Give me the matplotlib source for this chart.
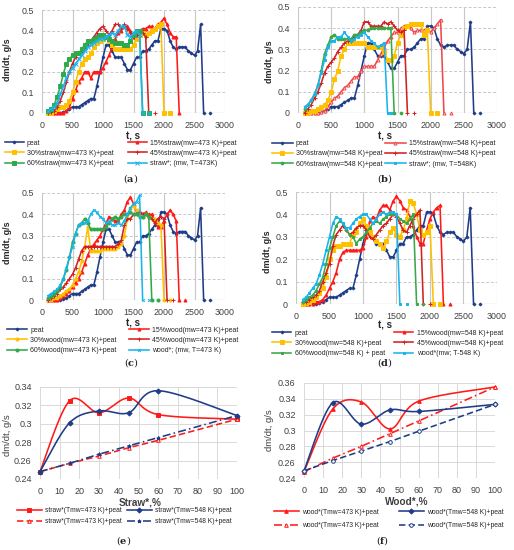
import numpy as np
import matplotlib
matplotlib.use('Agg')
from matplotlib import pyplot as plt

plt.rcParams['font.family'] = ['Liberation Sans', 'DejaVu Sans']
plt.rcParams['mathtext.fontset'] = 'dejavuserif'

# dm/dt, g/s sampled every 50 s starting at t = 100 s (nan = gap before the lone zero marker)
nan = np.nan
peat = [0, 0, 0, 0, 0, 0.005, 0.01, 0.02, 0.03, 0.03, 0.03, 0.04, 0.05, 0.06, 0.07, 0.07, 0.13, 0.20, 0.27,
        0.33, 0.33, 0.30, 0.27, 0.27, 0.27, 0.24, 0.21, 0.21, 0.24, 0.27, 0.27, 0.30, 0.30, 0.31, 0.33, 0.35,
        0.35, 0.41, 0.41, 0.40, 0.35, 0.32, 0.31, 0.32, 0.32, 0.32, 0.30, 0.29, 0.28, 0.30, 0.43, 0, nan, 0]

# (a) straw, mw at 473 K
straw15_a = [0, 0, 0, 0, 0, 0, 0.01, 0.03, 0.07, 0.11, 0.15, 0.17, 0.20, 0.20, 0.17, 0.20, 0.20, 0.20, 0.22,
             0.25, 0.28, 0.32, 0.36, 0.39, 0.40, 0.42, 0.42, 0.40, 0.37, 0.37, 0.40, 0.41, 0.41, 0.42, 0.42,
             0.41, 0.43, 0.44, 0.46, 0.43, 0.39, 0.37, 0.37, 0]
straw30_a = [0, 0, 0.01, 0.02, 0.03, 0.03, 0.04, 0.06, 0.10, 0.15, 0.20, 0.24, 0.26, 0.27, 0.29, 0.32, 0.34,
             0.35, 0.36, 0.37, 0.35, 0.33, 0.31, 0.31, 0.31, 0.31, 0.31, 0.31, 0.33, 0.36, 0.38, 0.39, 0.38,
             0.39, 0.40, 0.41, 0.42, 0.43, 0, nan, 0]
straw45_a = [0, 0.005, 0.01, 0.03, 0.06, 0.10, 0.15, 0.20, 0.24, 0.27, 0.29, 0.30, 0.31, 0.33, 0.35, 0.37,
             0.39, 0.41, 0.42, 0.40, 0.38, 0.40, 0.43, 0.43, 0.41, 0.43, 0.41, 0.39, 0.37, 0.38, 0.40, 0.39,
             0.37, 0, nan, 0]
straw60_a = [0.01, 0.02, 0.04, 0.08, 0.13, 0.19, 0.24, 0.26, 0.28, 0.29, 0.29, 0.31, 0.33, 0.35, 0.35, 0.36,
             0.37, 0.38, 0.38, 0.37, 0.36, 0.35, 0.34, 0.34, 0.34, 0.33, 0.33, 0.35, 0.38, 0.40, 0.40, 0, nan, 0]
straw_a = [0.01, 0.02, 0.03, 0.05, 0.09, 0.13, 0.17, 0.20, 0.22, 0.24, 0.26, 0.28, 0.30, 0.32, 0.33, 0.34,
           0.35, 0.36, 0.36, 0.37, 0.38, 0.39, 0.38, 0.40, 0.42, 0.42, 0.38, 0.37, 0.39, 0.40, 0.38, 0, nan, 0]

# (b) straw, mw at 548 K
straw15_b = [0, 0, 0, 0, 0, 0.005, 0.01, 0.03, 0.05, 0.07, 0.08, 0.10, 0.12, 0.13, 0.15, 0.17, 0.17, 0.20,
             0.22, 0.22, 0.22, 0.22, 0.25, 0.28, 0.31, 0.34, 0.36, 0.38, 0.38, 0.40, 0.41, 0.41, 0.40, 0.38,
             0.39, 0.39, 0.39, 0.40, 0.38, 0.40, 0.42, 0.44, 0, nan, 0]
straw30_b = [0, 0, 0.01, 0.01, 0.02, 0.03, 0.04, 0.06, 0.10, 0.16, 0.20, 0.27, 0.30, 0.33, 0.33, 0.33, 0.33,
             0.33, 0.33, 0.31, 0.31, 0.31, 0.31, 0.31, 0.29, 0.25, 0.25, 0.27, 0.33, 0.37, 0.40, 0.41, 0.42,
             0.42, 0.42, 0.42, 0.37, 0.39, 0, nan, 0]
straw45_b = [0, 0.02, 0.04, 0.07, 0.10, 0.14, 0.19, 0.22, 0.24, 0.26, 0.29, 0.31, 0.33, 0.34, 0.34, 0.36,
             0.37, 0.39, 0.43, 0.43, 0.41, 0.41, 0.41, 0.41, 0.43, 0.42, 0.43, 0.41, 0.39, 0.38, 0.39, 0, nan, 0]
straw60_b = [0.02, 0.04, 0.06, 0.09, 0.13, 0.20, 0.28, 0.32, 0.36, 0.37, 0.35, 0.35, 0.35, 0.35, 0.35, 0.37,
             0.37, 0.38, 0.39, 0.39, 0.40, 0.40, 0.40, 0.40, 0.40, 0.40, 0.40, 0, nan, 0]
straw_b = [0.03, 0.04, 0.06, 0.09, 0.13, 0.19, 0.25, 0.31, 0.34, 0.34, 0.36, 0.36, 0.38, 0.36, 0.34, 0.35,
           0.36, 0.37, 0.38, 0.36, 0.34, 0.33, 0.31, 0.32, 0.33, 0, 0]

# (c) wood, mw at 473 K
wood15_c = [0, 0, 0, 0, 0.01, 0.02, 0.03, 0.04, 0.06, 0.08, 0.10, 0.13, 0.17, 0.21, 0.24, 0.26, 0.28, 0.30,
            0.33, 0.36, 0.39, 0.38, 0.37, 0.37, 0.40, 0.42, 0.46, 0.48, 0.45, 0.41, 0.41, 0.40, 0.41, 0.40,
            0.40, 0.37, 0.34, 0.34, 0.37, 0.40, 0.42, 0.40, 0.37, 0, nan, 0]
wood30_c = [0, 0, 0.01, 0.01, 0.02, 0.03, 0.04, 0.05, 0.07, 0.10, 0.13, 0.18, 0.25, 0.34, 0.23, 0.23, 0.23,
            0.23, 0.24, 0.24, 0.24, 0.24, 0.24, 0.25, 0.26, 0.30, 0.38, 0.43, 0.44, 0.42, 0.40, 0.39, 0.40,
            0.39, 0.38, 0.38, 0.36, 0.35, 0, nan, 0]
wood45_c = [0, 0.01, 0.02, 0.03, 0.05, 0.06, 0.08, 0.10, 0.12, 0.15, 0.19, 0.23, 0.25, 0.25, 0.25, 0.25, 0.25,
            0.25, 0.25, 0.25, 0.25, 0.25, 0.25, 0.26, 0.28, 0.35, 0.38, 0.38, 0.40, 0.40, 0.41, 0.40, 0.40,
            0.39, 0.38, 0.36, 0.38, 0.39, 0.38, 0, nan, 0]
wood60_c = [0.01, 0.02, 0.03, 0.04, 0.06, 0.10, 0.14, 0.20, 0.27, 0.31, 0.35, 0.36, 0.38, 0.36, 0.33, 0.33,
            0.33, 0.33, 0.33, 0.34, 0.36, 0.38, 0.39, 0.38, 0.39, 0.40, 0.40, 0.41, 0.40, 0.40, 0.39, 0.39,
            0.40, 0.39, 0, nan, 0]
wood_c = [0.02, 0.03, 0.04, 0.05, 0.07, 0.10, 0.15, 0.20, 0.25, 0.31, 0.35, 0.36, 0.36, 0.37, 0.40, 0.42,
          0.41, 0.39, 0.38, 0.36, 0.37, 0.35, 0.35, 0.36, 0.35, 0.37, 0.40, 0.43, 0.45, 0.46, 0.49, 0, nan, 0]

# (d) wood, mw at 548 K
wood15_d = [0, 0, 0, 0, 0.01, 0.01, 0.02, 0.04, 0.07, 0.10, 0.14, 0.20, 0.23, 0.24, 0.24, 0.24, 0.24, 0.24,
            0.25, 0.30, 0.37, 0.39, 0.38, 0.42, 0.44, 0.44, 0.42, 0.46, 0.48, 0.46, 0.43, 0.42, 0.39, 0.35,
            0.30, 0.27, 0.27, 0.33, 0.38, 0.41, 0.43, 0.44, 0, nan, 0]
wood30_d = [0, 0.005, 0.01, 0.02, 0.03, 0.05, 0.07, 0.12, 0.20, 0.24, 0.26, 0.26, 0.27, 0.27, 0.27, 0.31,
            0.32, 0.36, 0.38, 0.35, 0.32, 0.30, 0.28, 0.27, 0.25, 0.28, 0.32, 0.34, 0.31, 0.30, 0.33, 0.38,
            0.46, 0.45, 0.40, 0.33, 0.31, 0.32, 0.35, 0, nan, 0]
wood45_d = [0.01, 0.01, 0.02, 0.03, 0.04, 0.06, 0.10, 0.14, 0.18, 0.26, 0.31, 0.33, 0.35, 0.33, 0.31, 0.32,
            0.34, 0.35, 0.35, 0.33, 0.30, 0.29, 0.31, 0.33, 0.35, 0.36, 0.38, 0.40, 0.39, 0.36, 0.33, 0.32,
            0.35, 0.38, 0.40, 0.42, 0, nan, 0]
wood60_d = [0.01, 0.02, 0.03, 0.04, 0.06, 0.09, 0.12, 0.18, 0.25, 0.30, 0.35, 0.37, 0.36, 0.33, 0.31, 0.30,
            0.27, 0.29, 0.30, 0.32, 0.34, 0.36, 0.37, 0.36, 0.38, 0.39, 0.40, 0.40, 0.40, 0.38, 0.37, 0.36,
            0.38, 0.40, 0, nan, 0]
wood_d = [0.02, 0.03, 0.05, 0.07, 0.09, 0.13, 0.18, 0.24, 0.30, 0.36, 0.39, 0.38, 0.36, 0.34, 0.34, 0.36,
          0.38, 0.39, 0.40, 0.40, 0.38, 0.36, 0.38, 0.40, 0.41, 0.40, 0.41, 0.41, 0.40, 0, nan, 0]

# (e), (f) mean rate vs share of additive
share = [0, 15, 30, 45, 60, 100]
straw473_exp = [0.248, 0.325, 0.312, 0.328, 0.310, 0.305]
straw548_exp = [0.248, 0.301, 0.314, 0.312, 0.336, 0.309]
straw473_add = [0.248, 0.257, 0.265, 0.274, 0.282, 0.305]
straw548_add = [0.248, 0.257, 0.267, 0.276, 0.285, 0.309]
wood473_exp = [0.248, 0.327, 0.336, 0.302, 0.337, 0.355]
wood548_exp = [0.249, 0.335, 0.308, 0.326, 0.324, 0.333]
wood473_add = [0.248, 0.265, 0.280, 0.296, 0.312, 0.355]
wood548_add = [0.249, 0.262, 0.274, 0.286, 0.299, 0.333]

NAVY = '#1f3c88'
RED = '#ff1a1a'
DRED = '#d42020'
YEL = '#ffc000'
GRN = '#2eaa4a'
CYAN = '#18b4ec'
GRID = '#c8c8c8'
TXT = '#404040'

W, H = 514, 550
fig = plt.figure(figsize=(W / 100, H / 100), dpi=100)


def px_axes(l, t, r, b):
    return fig.add_axes([l / W, 1 - b / H, (r - l) / W, (b - t) / H])


def ftxt(x, y, s, **kw):
    fig.text(x / W, 1 - y / H, s, ha='center', va='center', **kw)


def smooth(x, y, n=30):
    # Excel-style smoothed line (Catmull-Rom through the points)
    p = np.column_stack([x, y]).astype(float)
    p = np.vstack([p[0], p, p[-1]])
    out = []
    for i in range(1, len(p) - 2):
        p0, p1, p2, p3 = p[i - 1], p[i], p[i + 1], p[i + 2]
        c1 = p1 + (p2 - p0) / 6
        c2 = p2 - (p3 - p1) / 6
        s = np.linspace(0, 1, n)[:, None]
        out.append((1 - s) ** 3 * p1 + 3 * (1 - s) ** 2 * s * c1 + 3 * (1 - s) * s ** 2 * c2 + s ** 3 * p2)
    out = np.vstack(out)
    return out[:, 0], out[:, 1]


def two_col_legend(ax, left, right, x1, x2, y, hl, ls=0.45, fs=5.0):
    # each legend column placed at its own pixel position
    kw = dict(loc='upper left', bbox_transform=fig.transFigure, frameon=False, fontsize=fs,
              borderaxespad=0, borderpad=0, labelspacing=ls, handletextpad=0.45, handlelength=hl)
    lg1 = ax.legend(handles=left, bbox_to_anchor=(x1 / W, 1 - y / H), **kw)
    ax.add_artist(lg1)
    for t in lg1.get_texts():
        t.set_color('#262626')
    lg2 = ax.legend(handles=right, bbox_to_anchor=(x2 / W, 1 - y / H), **kw)
    for t in lg2.get_texts():
        t.set_color('#262626')


def panel_label(letter, x, y):
    ftxt(x, y, r'($\mathbf{%s}$)' % letter, fontsize=7, family='DejaVu Serif', color='#222222')


def time_panel(box, series, ylab_xy, xlab_xy):
    ax = px_axes(*box)
    lines = []
    for vals, color, marker, mfc, ms, lab in series:
        t = 100 + 50 * np.arange(len(vals))
        ln, = ax.plot(t, vals, color=color, lw=1.15, marker=marker, ms=ms, mfc=mfc, mec=color,
                      mew=0.7, label=lab, clip_on=False)
        lines.append(ln)
    ax.set_xlim(0, 3000)
    ax.set_ylim(0, 0.5)
    ax.set_xticks(range(0, 3001, 500))
    ax.set_yticks([0, 0.1, 0.2, 0.3, 0.4, 0.5])
    ax.set_yticklabels(['0', '0.1', '0.2', '0.3', '0.4', '0.5'])
    ax.grid(axis='x', color=GRID, lw=0.8)
    ax.grid(axis='y', color=GRID, lw=0.7, ls=(0, (3, 2)))
    ax.set_axisbelow(True)
    for s in ax.spines.values():
        s.set_visible(False)
    ax.axhline(0, color=GRID, lw=0.9, zorder=0)
    ax.tick_params(length=0, labelsize=6.4, colors=TXT)
    ax.tick_params(axis='x', pad=5.5)
    ax.tick_params(axis='y', pad=6)
    ftxt(*ylab_xy, 'dm/dt, g/s', rotation=90, fontsize=6.5, fontweight='bold', color='#262626')
    ftxt(*xlab_xy, 't, s', fontsize=7, fontweight='bold', color='#262626')
    return ax, lines


# ---- (a)
ax, ln = time_panel((42, 10, 225, 113), [
    (peat, NAVY, 'D', NAVY, 1.5, 'peat'),
    (straw15_a, RED, '^', RED, 2.2, '15%straw(mw=473 K)+peat'),
    (straw30_a, YEL, 's', YEL, 2.2, '30%straw(mw=473 K)+peat'),
    (straw45_a, DRED, '+', DRED, 2.6, '45%straw(mw=473 K)+peat'),
    (straw60_a, GRN, 's', GRN, 2.2, '60%straw(mw=473 K)+peat'),
    (straw_a, CYAN, 'x', CYAN, 2.2, 'straw*; (mw, T=473K)'),
], (8, 60), (133, 137))
two_col_legend(ax, [ln[0], ln[2], ln[4]], [ln[1], ln[3], ln[5]], 5, 128, 139.8, 2.7)
panel_label('a', 131, 179)

# ---- (b)
ax, ln = time_panel((298, 7, 497, 113), [
    (peat, NAVY, 'D', NAVY, 1.5, 'peat'),
    (straw15_b, '#f04848', '^', 'white', 2.2, '15%straw(mw=548 K)+peat'),
    (straw30_b, YEL, 's', YEL, 2.2, '30%straw(mw=548 K)+peat'),
    (straw45_b, DRED, '+', DRED, 2.6, '45%straw(mw=548 K)+peat'),
    (straw60_b, '#3aa846', 'o', '#3aa846', 2.0, '60%straw(mw=548 K)+peat'),
    (straw_b, CYAN, 's', CYAN, 2.0, 'straw*; (mw, T=548K)'),
], (269, 62), (385, 137))
two_col_legend(ax, [ln[0], ln[2], ln[4]], [ln[1], ln[3], ln[5]], 272, 385, 140.3, 3.0)
panel_label('b', 385, 179)

# ---- (c)
ax, ln = time_panel((42, 193, 225, 300), [
    (peat, NAVY, 'D', NAVY, 1.5, 'peat'),
    (wood15_c, RED, '^', RED, 2.2, '15%wood(mw=473 K)+peat'),
    (wood30_c, YEL, 'o', YEL, 2.2, '30%wood(mw=473 K)+peat'),
    (wood45_c, DRED, '+', DRED, 2.6, '45%wood(mw=473 K)+peat'),
    (wood60_c, GRN, 'o', GRN, 2.2, '60%wood(mw=473 K)+peat'),
    (wood_c, CYAN, 'x', CYAN, 2.0, 'wood*; (mw, T=473 K)'),
], (8, 243), (133, 323))
two_col_legend(ax, [ln[0], ln[2], ln[4]], [ln[1], ln[3], ln[5]], 7, 129, 326.8, 2.9)
panel_label('c', 131, 363)

# ---- (d)
ax, ln = time_panel((296, 192, 497, 304), [
    (peat, NAVY, 'D', NAVY, 1.5, 'peat'),
    (wood15_d, RED, '^', RED, 2.2, '15%wood(mw=548 K)+peat'),
    (wood30_d, YEL, 's', YEL, 2.2, '30%wood(mw=548 K)+peat'),
    (wood45_d, DRED, '+', DRED, 2.6, '45%wood(mw=548 K)+peat'),
    (wood60_d, '#3aa846', 's', '#3aa846', 2.0, '60%wood(mw=548 K) + peat'),
    (wood_d, CYAN, 's', CYAN, 2.0, 'wood*(mw; T-548 K)'),
], (267, 252), (385, 326))
two_col_legend(ax, [ln[0], ln[2], ln[4]], [ln[1], ln[3], ln[5]], 272, 394, 329.8, 2.8)
panel_label('d', 385, 363)


def share_panel(box, series, ylim, yticks, ytl, xlabel, ylab_xy, xlab_xy):
    ax = px_axes(*box)
    lines = []
    for vals, color, ls, marker, mfc, smooth_it, lab in series:
        if smooth_it:
            sx, sy = smooth(share, vals)
            ax.plot(sx, sy, color=color, lw=1.15, ls=ls, clip_on=False)
        else:
            ax.plot(share, vals, color=color, lw=1.15, ls=ls, clip_on=False)
        ax.plot(share, vals, ls='none', marker=marker, ms=2.6, color=color, mfc=mfc, mew=0.7, clip_on=False)
        lines.append(plt.Line2D([], [], color=color, lw=1.15, ls=ls, marker=marker, ms=2.6, mfc=mfc,
                                mew=0.7, label=lab))
    ax.set_xlim(0, 100)
    ax.set_ylim(*ylim)
    ax.set_xticks(range(0, 101, 10))
    ax.set_yticks(yticks)
    ax.set_yticklabels(ytl)
    ax.grid(color='#d9d9d9', lw=0.7)
    ax.set_axisbelow(True)
    for s in ax.spines.values():
        s.set_visible(False)
    ax.tick_params(length=0, labelsize=6.5, colors=TXT)
    ax.tick_params(axis='x', pad=5.5)
    ax.tick_params(axis='y', pad=6)
    ftxt(*ylab_xy, 'dm/dt, g/s', rotation=90, fontsize=6.8, color='#404040')
    ftxt(*xlab_xy, xlabel, fontsize=7.2, fontweight='bold', color='#404040')
    return ax, lines


# ---- (e)
ax, ln = share_panel((40, 387, 237, 479), [
    (straw473_exp, RED, '-', 's', RED, True, 'straw*(Tmw=473 K)+peat'),
    (straw473_add, RED, (0, (4, 2)), '^', 'white', False, 'straw*(Tmw=473 K)+peat'),
    (straw548_exp, NAVY, '-', 'D', NAVY, True, 'straw*(Tmw=548 K)+peat'),
    (straw548_add, NAVY, (0, (5, 2, 1, 2)), '*', NAVY, False, 'straw*(Tmw=548 K)+peat'),
], (0.24, 0.34), [0.24, 0.26, 0.28, 0.30, 0.32, 0.34],
    ['0.24', '0.26', '0.28', '0.3', '0.32', '0.34'], 'Straw*,%', (8, 435), (140, 502.5))
two_col_legend(ax, ln[:2], ln[2:], 17, 127, 507, 3.6, ls=0.65, fs=4.9)
panel_label('e', 124, 541)

# ---- (f)
ax, ln = share_panel((304, 383, 495, 478), [
    (wood473_exp, RED, '-', '^', RED, True, 'wood*(Tmw=473 K)+peat'),
    (wood473_add, RED, (0, (5, 2, 1, 2)), '^', 'white', False, 'wood*(Tmw=473 K)+peat'),
    (wood548_exp, NAVY, '-', 'D', NAVY, True, 'wood*(Tmw=548 K)+peat'),
    (wood548_add, NAVY, (0, (4, 2)), 'o', 'white', False, 'wood*(Tmw=548 K)+peat'),
], (0.24, 0.36), [0.24, 0.26, 0.28, 0.30, 0.32, 0.34, 0.36],
    ['0.24', '0.26', '0.28', '0.3', '0.32', '0.34', '0.36'], 'Wood*,%', (270, 430), (407, 502))
two_col_legend(ax, ln[:2], ln[2:], 274, 399, 508.5, 3.6, ls=0.95, fs=4.9)
panel_label('f', 383, 541)

fig.savefig('out.png', dpi=100, facecolor='white')
